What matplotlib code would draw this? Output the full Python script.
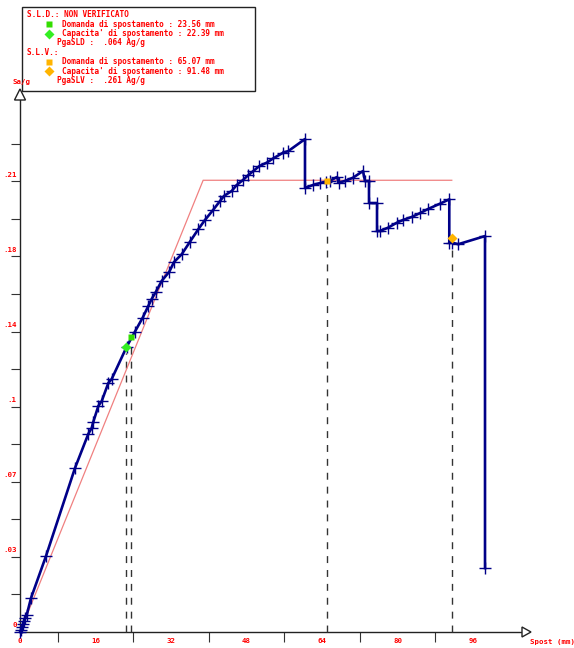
import matplotlib
matplotlib.use("Agg")
import matplotlib.pyplot as plt
from matplotlib.patches import Polygon, Rectangle

# ---------------- data ----------------
curve_x = [0, 0.21, 0.42, 0.64, 0.85, 1.06, 1.42, 2.33, 5.51, 11.65, 14.47, 15.19, 15.53,
           16.59, 17.31, 18.71, 19.43, 22.6, 24.36, 26.0, 27.18, 27.9, 28.81, 30.02,
           31.63, 32.63, 34.26, 36.02, 37.78, 39.19, 40.89, 42.37, 43.22, 44.85, 45.91,
           47.18, 48.37, 49.43, 50.70, 52.27, 53.66, 55.78, 56.84, 60.38, 60.38, 62.08,
           63.56, 64.83, 65.68, 67.16, 67.58, 68.86, 70.55, 72.67, 73.09, 73.94, 73.94,
           75.64, 75.64, 76.27, 77.97, 79.81, 81.14, 82.99, 84.75, 86.44, 88.98, 90.95,
           90.95, 91.53, 92.86, 98.52, 98.52]
curve_y = [0, 0.0009, 0.0023, 0.0037, 0.0051, 0.0065, 0.0079, 0.0158, 0.0354, 0.0764,
           0.0923, 0.0951, 0.0979, 0.1053, 0.1076, 0.1160, 0.1179, 0.1329, 0.1400,
           0.1465, 0.1519, 0.1552, 0.1586, 0.1636, 0.1679, 0.1724, 0.1760, 0.1819,
           0.1877, 0.1920, 0.1966, 0.2008, 0.2032, 0.2055, 0.2083, 0.2105, 0.2129,
           0.2148, 0.2171, 0.2187, 0.2207, 0.2234, 0.2241, 0.2297, 0.2069, 0.2083,
           0.2092, 0.2099, 0.2103, 0.2120, 0.2094, 0.2102, 0.2117, 0.2148, 0.2102,
           0.2102, 0.1999, 0.1999, 0.1869, 0.1869, 0.1884, 0.1907, 0.1920, 0.1934,
           0.1952, 0.1971, 0.1996, 0.2016, 0.1814, 0.1814, 0.1807, 0.1845, 0.0298]

bilinear_x = [0, 38.8, 91.48]
bilinear_y = [0, 0.2105, 0.2105]

sld_demand = (23.56, 0.1376)
sld_capacity = (22.39, 0.1329)
slv_demand = (65.07, 0.2103)
slv_capacity = (91.48, 0.1836)

x_label_vals = [0, 16, 32, 48, 64, 80, 96]
x_minor_ticks = [8, 24, 40, 56, 72, 88]
y_label_vals = [0, 0.035, 0.07, 0.105, 0.14, 0.175, 0.21]
y_label_txt = ["0", ".03", ".07", ".1", ".14", ".18", ".21"]
y_ticks = [0.0175 * k for k in range(1, 14)]

legend_lines = [
    ("S.L.D.: NON VERIFICATO", None),
    ("Domanda di spostamento : 23.56 mm", ("s", "#33dd00")),
    ("Capacita' di spostamento : 22.39 mm", ("D", "#33ee22")),
    ("PgaSLD :  .064 Ag/g", None),
    ("S.L.V.:", None),
    ("Domanda di spostamento : 65.07 mm", ("s", "#ffb400")),
    ("Capacita' di spostamento : 91.48 mm", ("D", "#ffb400")),
    ("PgaSLV :  .261 Ag/g", None),
]

# ---------------- layout ----------------
W, H = 574, 648
fig = plt.figure(figsize=(W / 100, H / 100), dpi=100)
x0, y0 = 20, 632
pxmm, pxg = 4.72, 2146
ax = fig.add_axes([x0 / W, (H - y0) / H, 511 / W, 547 / H])
ax.set_xlim(0, 511 / pxmm)
ax.set_ylim(0, 547 / pxg)
for s in ax.spines.values():
    s.set_visible(False)
ax.set_facecolor("none")

FONT = dict(family="DejaVu Sans Mono", fontweight="bold", color="red")

# ticks
ax.set_xticks(x_minor_ticks)
ax.set_xticklabels([])
ax.set_yticks(y_ticks)
ax.set_yticklabels([])
ax.tick_params(axis="x", direction="out", length=7.2, width=0.8, color="#333333")
ax.tick_params(axis="y", direction="out", length=6.5, width=0.8, color="#333333")

for v in x_label_vals:
    ax.annotate(str(v), xy=(v, 0), xycoords="data", xytext=(0, -6.8),
                textcoords="offset points", ha="center", va="center",
                fontsize=5.3, annotation_clip=False, **FONT)
for v, t in zip(y_label_vals, y_label_txt):
    ax.annotate(t, xy=(0, v), xycoords="data", xytext=(-2.5, 4.8),
                textcoords="offset points", ha="right", va="center",
                fontsize=5.3, annotation_clip=False, **FONT)

# axis lines + open arrow heads
xa_end = 502 / pxmm
ya_end = 532 / pxg
ax.plot([0, xa_end], [0, 0], color="#222222", lw=1, clip_on=False, zorder=2)
ax.plot([0, 0], [0, ya_end], color="#222222", lw=1, clip_on=False, zorder=2)
tri_x = Polygon([[xa_end, -5 / pxg], [xa_end, 5 / pxg], [511 / pxmm, 0]], closed=True,
                fc="white", ec="#222222", lw=1, clip_on=False, zorder=3)
tri_y = Polygon([[-5.5 / pxmm, ya_end], [5.5 / pxmm, ya_end], [0, 543 / pxg]], closed=True,
                fc="white", ec="#222222", lw=1, clip_on=False, zorder=3)
ax.add_patch(tri_x)
ax.add_patch(tri_y)

# bilinear
ax.plot(bilinear_x, bilinear_y, color="#f08080", lw=0.9, zorder=3, clip_on=False)

# dashed verticals
for px, py in [sld_capacity, sld_demand, slv_demand, slv_capacity]:
    ax.plot([px, px], [0, py - 0.003], color="#333333", lw=1.0,
            dashes=(5, 5), zorder=2, clip_on=False)

# curve
ax.plot(curve_x, curve_y, color="#000088", lw=1.9, zorder=4, clip_on=False,
        marker="+", ms=8, mew=1.0, mec="#000088")

# points
ax.plot(*sld_demand, marker="s", ms=4.5, color="#33dd00", mec="none", zorder=6)
ax.plot(*sld_capacity, marker="D", ms=5, color="#33ee22", mec="none", zorder=6)
ax.plot(*slv_demand, marker="s", ms=4.5, color="#ffb400", mec="none", zorder=6)
ax.plot(*slv_capacity, marker="D", ms=5, color="#ffb400", mec="none", zorder=6)

# axis titles
fig.text(12 / W, 1 - 82 / H, "Sa/g", fontsize=5.3, va="center", ha="left", zorder=10, **FONT)
fig.text(530 / W, 1 - 642 / H, "Spost (mm)", fontsize=5.3, va="center", ha="left", **FONT)

# legend box
fig.patches.append(Rectangle((22 / W, 1 - 91 / H), 233 / W, 84 / H, transform=fig.transFigure,
                             fc="white", ec="#222222", lw=1.0, zorder=5))
ys = [14.7, 24.3, 33.7, 42.7, 52.3, 62.0, 71.3, 80.3]
for (txt, mk), yy in zip(legend_lines, ys):
    if mk is None:
        xx = 26.7 if txt.startswith("S.L.") else 57
    else:
        xx = 61.7
        fig.add_artist(plt.Line2D([49 / W], [1 - yy / H], marker=mk[0], color=mk[1],
                                  ms=4.5 if mk[0] == "s" else 5, mec="none",
                                  transform=fig.transFigure, zorder=6))
    fig.text(xx / W, 1 - yy / H, txt, fontsize=5.6, va="center", ha="left", zorder=7, **FONT)

fig.savefig("out.png", dpi=100)
